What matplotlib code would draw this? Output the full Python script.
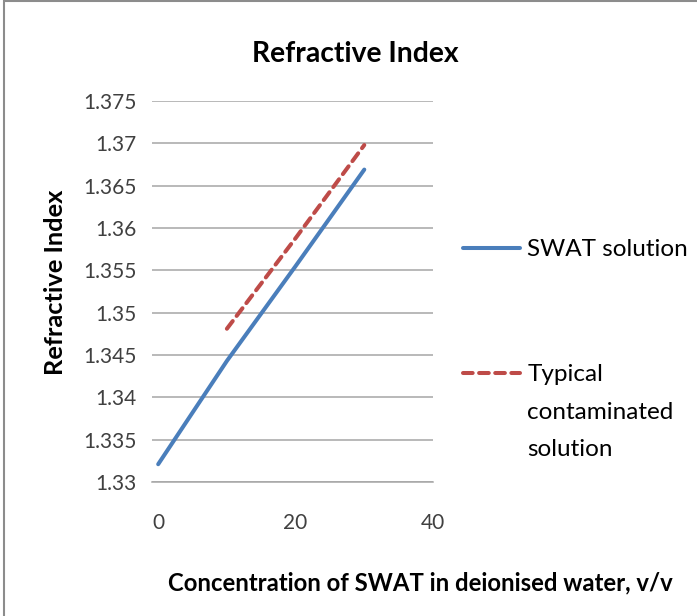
import matplotlib
matplotlib.use("Agg")
import matplotlib.pyplot as plt
from matplotlib.patches import Rectangle

plt.rcParams['font.family'] = ['Lato', 'DejaVu Sans']

# Data
swat_x = [0, 10, 20, 30]
swat_y = [1.3321, 1.3443, 1.3555, 1.3669]
contam_x = [10, 20, 30]
contam_y = [1.3481, 1.3588, 1.3698]

x_ticks = [0, 20, 40]
y_ticks = [1.33, 1.335, 1.34, 1.345, 1.35, 1.355, 1.36, 1.365, 1.37, 1.375]
y_tick_labels = ["1.33", "1.335", "1.34", "1.345", "1.35", "1.355", "1.36", "1.365", "1.37", "1.375"]

title = "Refractive Index"
xlabel = "Concentration of SWAT in deionised water, v/v"
ylabel = "Refractive Index"
series_names = ["SWAT solution", "Typical contaminated solution"]
legend_lines = ["SWAT solution", "Typical", "contaminated", "solution"]

W, H = 697, 616
fig = plt.figure(figsize=(W / 100, H / 100), dpi=100)


def fx(px):
    return px / W


def fy(py):
    return 1 - py / H


# outer chart border
fig.patches.append(Rectangle((fx(4), -0.05), 1.2, 1.05 - 1.5 / H, transform=fig.transFigure,
                             fill=False, edgecolor='#8c8c8c', linewidth=1.5))

ax = fig.add_axes([fx(152), fy(482), (433 - 152) / W, (482 - 101) / H])

blue = '#4A7EBB'
red = '#BE4B48'
l1, = ax.plot(swat_x, swat_y, color=blue, lw=2.9, solid_capstyle='round', label=series_names[0], zorder=3)
l2, = ax.plot(contam_x, contam_y, color=red, lw=2.9, linestyle=(0, (2.4, 1.6)), dash_capstyle='round',
              label=series_names[1], zorder=3)

ax.set_xlim(-0.9, 40)
ax.set_ylim(1.33, 1.375)
ax.set_xticks(x_ticks)
ax.set_xticklabels([str(v) for v in x_ticks])
ax.set_xticks([40], minor=True)
ax.set_yticks(y_ticks)
ax.set_yticklabels(y_tick_labels)

ax.grid(axis='y', color='#a6a6a6', lw=1.1)
ax.set_axisbelow(True)
for s in ['top', 'right', 'left']:
    ax.spines[s].set_visible(False)
ax.spines['bottom'].set_color('#a6a6a6')
ax.spines['bottom'].set_linewidth(1.1)
ax.tick_params(axis='y', length=0, pad=10.8, labelsize=15, labelcolor='#404040')
ax.tick_params(axis='x', which='major', length=0, pad=22, labelsize=15, labelcolor='#404040')
ax.tick_params(axis='x', which='minor', length=6, width=1.1, color='#a6a6a6')

fig.text(fx(355), fy(62), title, ha='center', va='baseline', fontsize=20.3, fontweight='bold')
fig.text(fx(55.5), fy(282), ylabel, ha='center', va='center', rotation=90, fontsize=18.3, fontweight='bold')
fig.text(fx(420), fy(590), xlabel, ha='center', va='baseline', fontsize=17.2, fontweight='bold')

# legend: first line of each entry carries the handle
lfs = 17.5
leg = ax.legend([l1, l2], legend_lines[:2], loc='upper left', bbox_to_anchor=(fx(463), fy(239)),
                bbox_transform=fig.transFigure, frameon=False, fontsize=lfs, borderpad=0,
                borderaxespad=0, handlelength=2.35, handletextpad=0.29, labelspacing=4.28)
fig.canvas.draw()
tx0 = leg.get_texts()[1].get_window_extent().x0 / (W)
fig.text(tx0, fy(419), legend_lines[2], ha='left', va='baseline', fontsize=lfs)
fig.text(tx0, fy(456), legend_lines[3], ha='left', va='baseline', fontsize=lfs)

fig.savefig("out.png", dpi=100)
